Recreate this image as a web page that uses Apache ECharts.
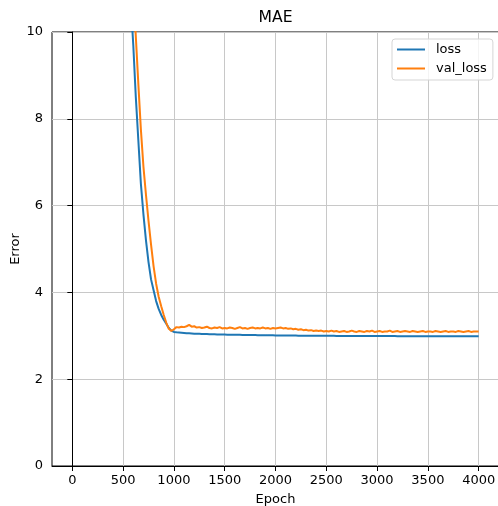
<!DOCTYPE html>
<html>
<head>
<meta charset="utf-8">
<script src="https://cdn.jsdelivr.net/npm/echarts@6/dist/echarts.min.js"></script>
<style>
html,body{margin:0;padding:0;background:#fff;}
#chart{width:498px;height:506px;}
</style>
</head>
<body>
<div id="chart"></div>
<script>
// Epochs sampled every 25 from 0 to 4000
const epochs = Array.from({length: 161}, (_, i) => i * 25);
const xTicks = [0, 500, 1000, 1500, 2000, 2500, 3000, 3500, 4000];
const yTicks = [0, 2, 4, 6, 8, 10];

const lossValues = [
  62, 56, 51, 47, 43, 40, 37, 34.5, 32, 30, 28, 26.2, 24.5, 23, 21.5, 20.1, 18.8, 17.6, 16.5, 15.5, 14.5,
  13.0, 11.8, 10.7, 9.7, 8.5, 7.5, 6.5, 5.8, 5.2, 4.7, 4.3, 4.05, 3.8, 3.62, 3.48, 3.37, 3.28, 3.18, 3.12,
  3.09, 3.08, 3.075, 3.07, 3.065, 3.06, 3.057, 3.054, 3.05,
  3.048, 3.046, 3.044, 3.042, 3.04, 3.038, 3.036, 3.034, 3.032, 3.03, 3.029, 3.028,
  3.027, 3.026, 3.025, 3.024, 3.023, 3.022, 3.021, 3.02, 3.019, 3.018, 3.017, 3.016, 3.015, 3.014, 3.013, 3.012, 3.011, 3.01, 3.01, 3.009,
  3.008, 3.008, 3.007, 3.007, 3.006, 3.006, 3.005, 3.005, 3.004, 3.004, 3.003, 3.003, 3.002, 3.002, 3.001, 3.001, 3.0, 3.0, 3.0, 3.0,
  2.999, 2.999, 2.999, 2.998, 2.998, 2.998, 2.997, 2.997, 2.997, 2.996, 2.996, 2.996, 2.996, 2.995, 2.995, 2.995, 2.995, 2.994, 2.994, 2.994,
  2.994, 2.994, 2.993, 2.993, 2.993, 2.993, 2.993, 2.992, 2.992, 2.992, 2.992, 2.992, 2.992, 2.991, 2.991, 2.991, 2.991, 2.991, 2.991, 2.991,
  2.99, 2.99, 2.99, 2.99, 2.99, 2.99, 2.99, 2.99, 2.99, 2.99, 2.99, 2.99, 2.99, 2.99, 2.99, 2.99, 2.99, 2.99, 2.99, 2.99
];

const valLossValues = [
  75, 69, 63, 58, 53.5, 49.5, 46, 42.5, 39.5, 36.5, 34, 31.5, 29.3, 27.2, 25.3, 23.5, 21.8, 20.2, 18.8, 17.5, 16.3,
  15.0, 13.6, 12.2, 11.0, 9.9, 8.8, 7.75, 6.9, 6.25, 5.65, 5.1, 4.6, 4.2, 3.9, 3.68, 3.48, 3.3, 3.16, 3.11,
  3.15, 3.2, 3.19, 3.21, 3.2, 3.22, 3.25, 3.21, 3.22,
  3.19, 3.2, 3.18, 3.19, 3.21, 3.18, 3.17, 3.19, 3.18, 3.2, 3.17, 3.18,
  3.17, 3.19, 3.18, 3.16, 3.18, 3.2, 3.17, 3.18, 3.16, 3.18, 3.19, 3.17, 3.18, 3.17, 3.19, 3.17, 3.18, 3.16, 3.18, 3.17,
  3.18, 3.19, 3.17, 3.18, 3.16, 3.17, 3.15, 3.16, 3.14, 3.15, 3.13, 3.14, 3.12, 3.13, 3.11, 3.12, 3.11, 3.12, 3.1, 3.11,
  3.1, 3.12, 3.1, 3.11, 3.09, 3.1, 3.11, 3.09, 3.1, 3.12, 3.1, 3.09, 3.11, 3.1, 3.09, 3.11, 3.1, 3.12, 3.09, 3.1,
  3.11, 3.09, 3.1, 3.1, 3.12, 3.09, 3.1, 3.11, 3.09, 3.1, 3.11, 3.1, 3.09, 3.11, 3.1, 3.09, 3.1, 3.11, 3.09, 3.1,
  3.1, 3.09, 3.11, 3.1, 3.09, 3.1, 3.11, 3.09, 3.1, 3.1, 3.09, 3.11, 3.1, 3.09, 3.1, 3.11, 3.09, 3.1, 3.1, 3.1
];

const FONT = 'DejaVu Sans';
const chart = echarts.init(document.getElementById('chart'), null, {renderer: 'canvas'});

const option = {
  animation: false,
  textStyle: {fontFamily: FONT},
  title: {
    text: 'MAE',
    left: 275.5,
    top: 10,
    padding: 0,
    textAlign: 'center',
    textStyle: {fontFamily: FONT, fontSize: 15.6, fontWeight: 'normal', color: '#000'}
  },
  legend: {
    orient: 'vertical',
    left: 392,
    top: 39,
    padding: [4, 6, 5, 4],
    itemWidth: 28,
    itemHeight: 14,
    itemGap: 6,
    backgroundColor: 'rgba(255,255,255,0.8)',
    borderColor: '#d5d5d5',
    borderWidth: 1,
    borderRadius: 3,
    itemStyle: {opacity: 0},
    lineStyle: {width: 2},
    textStyle: {fontFamily: FONT, fontSize: 13, color: '#000', padding: [0, 0, 0, 6]},
    data: ['loss', 'val_loss']
  },
  grid: {
    left: 52, right: -1, top: 32, bottom: 40,
    outerBoundsMode: 'none',
    containLabel: false,
    show: true,
    borderColor: '#000',
    borderWidth: 1,
    backgroundColor: 'transparent'
  },
  xAxis: {
    type: 'value',
    min: -200,
    max: 4200,
    name: 'Epoch',
    nameLocation: 'middle',
    nameGap: 27,
    nameMoveOverlap: false,
    nameTextStyle: {fontFamily: FONT, fontSize: 13, color: '#000'},
    axisLine: {show: true, lineStyle: {color: '#000', width: 1}},
    axisTick: {show: true, length: 5, lineStyle: {color: '#000', width: 1}, customValues: xTicks},
    axisLabel: {fontFamily: FONT, fontSize: 13, color: '#000', margin: 8, customValues: xTicks,
      formatter: v => String(v)},
    splitLine: {show: true, lineStyle: {color: '#c8c8c8', width: 1}}
  },
  yAxis: {
    type: 'value',
    min: 0,
    max: 10,
    interval: 2,
    name: 'Error',
    nameLocation: 'middle',
    nameGap: 30,
    nameRotate: 90,
    nameMoveOverlap: false,
    nameTextStyle: {fontFamily: FONT, fontSize: 13, color: '#000'},
    axisLine: {show: true, lineStyle: {color: '#000', width: 1}},
    axisTick: {show: true, length: 5, lineStyle: {color: '#000', width: 1}},
    axisLabel: {fontFamily: FONT, fontSize: 13, color: '#000', margin: 9,
      customValues: yTicks, formatter: v => String(v)},
    splitLine: {show: true, lineStyle: {color: '#c8c8c8', width: 1}}
  },
  series: [
    {
      name: 'loss',
      type: 'line',
      data: epochs.map((e, i) => [e, lossValues[i]]),
      showSymbol: false,
      symbol: 'none',
      clip: true,
      lineStyle: {color: '#1f77b4', width: 2},
      itemStyle: {color: '#1f77b4'}
    },
    {
      name: 'val_loss',
      type: 'line',
      data: epochs.map((e, i) => [e, valLossValues[i]]),
      showSymbol: false,
      symbol: 'none',
      clip: true,
      lineStyle: {color: '#ff7f0e', width: 2},
      itemStyle: {color: '#ff7f0e'}
    }
  ]
};
chart.setOption(option);
</script>
</body>
</html>
